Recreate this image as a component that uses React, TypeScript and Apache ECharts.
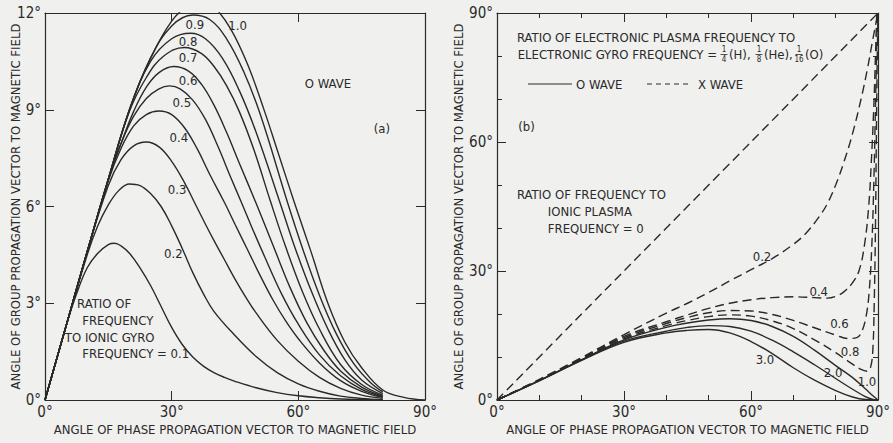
import React, { useEffect, useRef } from "react";
import * as echarts from "echarts";

const FONT = '"DejaVu Sans Condensed", "Liberation Sans Narrow", "Roboto Condensed", "DejaVu Sans", sans-serif';
const INK = "#2a2a2a";
const BG = "#f0f0ee";

// ---------- axis scales ----------
const phaseAxis = { min: 0, max: 90, interval: 30 };
const leftGroupAxis = { min: 0, max: 12, interval: 3 };
const rightGroupAxis = { min: 0, max: 90, interval: 30 };

const xTitle = "ANGLE OF PHASE PROPAGATION VECTOR TO MAGNETIC FIELD";
const yTitle = "ANGLE OF GROUP PROPAGATION VECTOR TO MAGNETIC FIELD";

// ---------- panel (a): O wave, ratio of frequency to ionic gyro frequency ----------
const leftRatios = ["0.1", "0.2", "0.3", "0.4", "0.5", "0.6", "0.7", "0.8", "0.9", "1.0"];
const a01 = [[0,0],[2.5,1.15],[5,2.3],[7.5,3.3],[10,4.1],[12.5,4.55],[15,4.82],[16.5,4.86],[18,4.78],[20,4.55],[22.5,4.1],[25,3.55],[27.5,2.9],[30,2.25],[32.5,1.72],[35,1.33],[37.5,1.05],[40,0.85],[42.5,0.7],[45,0.58],[50,0.38],[55,0.23],[60,0.13],[65,0.07],[70,0.03],[75,0.01],[80,0]];
const a02 = [[0,0],[5,2.3],[10,4.5],[12.5,5.4],[15,6.05],[17.5,6.5],[20,6.7],[22.5,6.65],[25,6.4],[27.5,6.0],[30,5.4],[32.5,4.7],[35,3.95],[37.5,3.3],[40,2.75],[45,2.0],[50,1.35],[55,0.85],[60,0.5],[65,0.27],[70,0.12],[75,0.05],[80,0.01]];
const a03 = [[0,0],[5,2.3],[10,4.6],[15,6.65],[18,7.45],[21,7.88],[24,8.0],[27,7.85],[30,7.4],[33,6.75],[35.5,6.1],[38,5.45],[40,4.95],[42.5,4.35],[45,3.75],[47.5,3.2],[50,2.7],[55,1.85],[60,1.2],[65,0.7],[70,0.36],[75,0.15],[80,0.05]];
const a04 = [[0,0],[5,2.3],[10,4.6],[15,6.8],[18,7.8],[21,8.5],[24,8.85],[27,8.96],[30,8.85],[33,8.45],[36,7.8],[39,7.0],[42.6,6.1],[45,5.45],[48,4.65],[51,3.85],[54,3.1],[57,2.45],[60,1.9],[65,1.15],[70,0.6],[75,0.27],[80,0.08]];
const a05 = [[0,0],[5,2.3],[10,4.6],[15,6.85],[18,7.95],[21,8.8],[24,9.35],[27,9.65],[29.5,9.74],[32,9.65],[35,9.3],[38,8.7],[41,7.85],[44,6.9],[46.6,6.1],[49,5.35],[52,4.45],[56,3.3],[60,2.35],[65,1.4],[70,0.75],[75,0.33],[80,0.1]];
const a06 = [[0,0],[5,2.3],[10,4.6],[15,6.85],[18,7.95],[21,8.95],[24,9.7],[27,10.15],[30.5,10.34],[34,10.2],[37,9.8],[40,9.15],[43,8.3],[46,7.35],[50,6.1],[54,4.8],[58,3.5],[62,2.4],[66,1.55],[70,0.9],[75,0.4],[80,0.12]];
const a07 = [[0,0],[5,2.3],[10,4.6],[15,6.85],[20,8.95],[24,10.0],[28,10.65],[33,10.93],[37,10.75],[40,10.35],[43,9.75],[46,8.95],[49.5,7.75],[53.3,6.2],[57,4.75],[61,3.35],[65,2.2],[70,1.1],[75,0.48],[80,0.15]];
const a08 = [[0,0],[5,2.3],[10,4.6],[15,6.85],[20,9.0],[25,10.5],[30,11.2],[34.5,11.37],[38,11.2],[42,10.6],[46,9.6],[50,8.3],[55.7,6.1],[59,4.8],[63,3.4],[67,2.2],[71,1.25],[75,0.62],[80,0.2]];
const a09 = [[0,0],[5,2.3],[10,4.6],[15,6.85],[20,9.0],[25,10.6],[30,11.6],[35,11.94],[39,11.8],[43,11.2],[47,10.2],[51,8.85],[57.5,6.1],[61,4.7],[65,3.25],[69,2.05],[73,1.15],[77,0.55],[80,0.25]];
const a10 = [[0,0],[5,2.3],[10,4.6],[15,6.85],[20,9.0],[25,10.6],[30,11.75],[34,12.25],[37,12.4],[40,12.2],[44,11.5],[48,10.4],[52,8.95],[55,7.75],[59,6.15],[63,4.6],[67,3.0],[71,1.8],[75,1.0],[80,0.31],[85,0.08],[90,0]];
const leftCurves = [a01, a02, a03, a04, a05, a06, a07, a08, a09, a10];

// ---------- panel (b): O (solid) and X (dashed) waves ----------
const xDiag = [[0,0],[90,90]];
const x02 = [[0,0],[10,4.8],[20,9.9],[30,15.2],[40,20.2],[45,22.5],[50,25.0],[55,27.7],[60,30.3],[65,32.9],[70,36.2],[73,38.8],[76,42.5],[78,45.6],[80,50.0],[82,55.5],[84,62],[86,70],[87.5,77],[88.8,84],[90,90]];
const x04 = [[0,0],[10,4.7],[20,9.7],[30,14.8],[40,18.2],[45,19.8],[50,21.3],[55,22.5],[60,23.3],[65,23.8],[70,24.0],[75,23.8],[78,23.7],[80,24.1],[82,25.2],[84,27.3],[85.5,30],[86.8,36],[87.8,45],[88.4,55],[89,68],[89.4,80],[89.7,90]];
const x06 = [[0,0],[10,4.65],[20,9.6],[30,14.5],[40,17.8],[45,19.2],[50,20.3],[55,20.8],[60,20.7],[65,19.9],[70,18.5],[75,16.8],[80,15.1],[83,14.3],[85,14.5],[86.2,16],[87.2,19.5],[87.9,25],[88.5,35],[89,50],[89.4,68],[89.7,82],[89.9,90]];
const x08 = [[0,0],[10,4.6],[20,9.5],[30,14.2],[40,17.3],[45,18.5],[50,19.4],[55,19.8],[60,19.5],[65,18.4],[70,16.6],[75,14.0],[80,11.0],[83,9.0],[86,7.1],[87.5,6.7],[88.3,7.8],[88.8,12],[89.1,22],[89.4,40],[89.6,60],[89.8,78],[90,90]];
const o10 = [[0,0],[10,4.55],[20,9.4],[30,14.0],[40,16.9],[45,17.9],[50,18.6],[55,18.9],[60,18.5],[65,17.1],[70,14.8],[75,11.6],[80,8.0],[84,5.2],[87,2.6],[89,0.8],[90,0]];
const o20 = [[0,0],[10,4.5],[20,9.3],[30,13.7],[40,16.0],[45,16.9],[50,17.3],[55,17.1],[60,16.0],[65,13.9],[70,11.2],[75,8.2],[80,5.0],[84,2.5],[87,0.8],[89,0.1],[90,0]];
const o30 = [[0,0],[10,4.45],[20,9.2],[30,13.4],[40,15.6],[45,16.2],[50,16.4],[55,15.6],[60,13.6],[65,10.8],[70,7.5],[75,4.6],[80,2.2],[84,0.7],[87,0.1],[90,0]];
const rightDashed = [xDiag, x02, x04, x06, x08];
const rightDashedNames = ["X", "X 0.2", "X 0.4", "X 0.6", "X 0.8"];
const rightSolid = [o10, o20, o30];
const rightSolidNames = ["O 1.0", "O 2.0", "O 3.0"];

// ---------- annotation texts (data coordinates) ----------
const leftCurveLabels = [
  { text: "0.2", at: [30.4, 4.53] },
  { text: "0.3", at: [31.3, 6.54] },
  { text: "0.4", at: [31.7, 8.14] },
  { text: "0.5", at: [32.4, 9.22] },
  { text: "0.6", at: [33.9, 9.9] },
  { text: "0.7", at: [33.9, 10.62] },
  { text: "0.8", at: [33.9, 11.13] },
  { text: "0.9", at: [35.5, 11.63] },
  { text: "1.0", at: [45.6, 11.6] },
  { text: "O WAVE", at: [67, 9.8] },
  { text: "(a)", at: [79.8, 8.43] },
];
const leftBlock = [
  { text: "RATIO OF", at: [7.6, 3.0] },
  { text: "FREQUENCY", at: [8.8, 2.48] },
  { text: "TO IONIC GYRO", at: [4.7, 1.95] },
  { text: "FREQUENCY = 0.1", at: [8.8, 1.43] },
];
const rightCurveLabels = [
  { text: "0.2", at: [62.6, 33.3] },
  { text: "0.4", at: [76, 25.3] },
  { text: "0.6", at: [80.9, 17.7] },
  { text: "0.8", at: [83.4, 11.2] },
  { text: "1.0", at: [87.4, 4.2] },
  { text: "2.0", at: [79.4, 6.5] },
  { text: "3.0", at: [63.3, 9.5] },
];
const rightBlock = [
  { text: "(b)", at: [5, 63.5] },
  { text: "RATIO OF FREQUENCY TO", at: [4.7, 47.9] },
  { text: "IONIC PLASMA", at: [12, 43.9] },
  { text: "FREQUENCY = 0", at: [12, 39.8] },
];

function valueAxis(grid: number, scale: any, pos: string, opts: any = {}) {
  return {
    type: "value",
    gridIndex: grid,
    position: pos,
    min: scale.min,
    max: scale.max,
    interval: scale.interval,
    axisLine: { show: true, onZero: false, lineStyle: { color: INK, width: 1.2 } },
    axisTick: { show: true, inside: true, length: 9, lineStyle: { color: INK, width: 1 } },
    splitLine: { show: false },
    nameMoveOverlap: false,
    axisLabel: {
      show: pos === "bottom" || pos === "left",
      formatter: "{value}°",
      color: INK,
      fontFamily: FONT,
      fontSize: 15,
      margin: 4,
    },
    ...opts,
  };
}

const textStyle = { color: INK, fontFamily: FONT, fontSize: 13 };

export default function App() {
  const ref = useRef<HTMLDivElement>(null);
  useEffect(() => {
    if (!ref.current) return;
    const chart = echarts.init(ref.current, null, { renderer: "svg" });
    const lineBase = { type: "line", showSymbol: false, symbol: "none", smooth: 0.4, silent: true };
    const series: any[] = [];
    leftCurves.forEach((d, i) =>
      series.push({ ...lineBase, name: "O " + leftRatios[i], xAxisIndex: 0, yAxisIndex: 0, data: d, lineStyle: { color: INK, width: 1.4 } })
    );
    rightDashed.forEach((d, i) =>
      series.push({ ...lineBase, name: rightDashedNames[i], xAxisIndex: 2, yAxisIndex: 2, data: d, lineStyle: { color: INK, width: 1.4, type: [9, 5] } })
    );
    rightSolid.forEach((d, i) =>
      series.push({ ...lineBase, name: rightSolidNames[i], xAxisIndex: 2, yAxisIndex: 2, data: d, lineStyle: { color: INK, width: 1.4 } })
    );

    const minorTick = { show: true, splitNumber: 3, length: 5, lineStyle: { color: INK, width: 1 } };

    chart.setOption({
      animation: false,
      backgroundColor: BG,
      grid: [
        { left: 45, top: 13, width: 380, height: 387, show: false },
        { left: 497, top: 13, width: 381, height: 387, show: false },
      ],
      xAxis: [
        valueAxis(0, phaseAxis, "bottom", { name: xTitle, nameLocation: "middle", nameGap: 23, nameTextStyle: textStyle }),
        valueAxis(0, phaseAxis, "top"),
        valueAxis(1, phaseAxis, "bottom", { name: xTitle, nameLocation: "middle", nameGap: 23, nameTextStyle: textStyle, minorTick }),
        valueAxis(1, phaseAxis, "top", { minorTick }),
      ],
      yAxis: [
        valueAxis(0, leftGroupAxis, "left", { name: yTitle, nameLocation: "middle", nameGap: 23, nameTextStyle: textStyle }),
        valueAxis(0, leftGroupAxis, "right"),
        valueAxis(1, rightGroupAxis, "left", { name: yTitle, nameLocation: "middle", nameGap: 32, nameTextStyle: textStyle, minorTick }),
        valueAxis(1, rightGroupAxis, "right", { minorTick }),
      ],
      series,
    });

    const sm = (t: string, x: number, y: number, size = 13, align = "left") => ({
      type: "text",
      x,
      y,
      silent: true,
      z: 10,
      style: { text: t, fill: INK, font: `${size}px ${FONT}`, textAlign: align, align, textVerticalAlign: "middle", verticalAlign: "middle" },
    });
    const frac = (num: string, den: string, cx: number) => [
      sm(num, cx, 49.5, 8, "center"),
      { type: "line", silent: true, shape: { x1: cx - 3.5, y1: 54.5, x2: cx + 3.5, y2: 54.5 }, style: { stroke: INK, lineWidth: 0.8 } },
      sm(den, cx, 59.5, 8, "center"),
    ];
    const place = (items: any[], grid: number, align: string) =>
      items.map((it) => {
        const p = chart.convertToPixel({ xAxisIndex: grid * 2, yAxisIndex: grid * 2 }, it.at) as number[];
        return sm(it.text, p[0], p[1], 13, align);
      });

    chart.setOption({
      graphic: [
        ...place(leftCurveLabels, 0, "center"),
        ...place(leftBlock, 0, "left"),
        ...place(rightCurveLabels, 1, "center"),
        ...place(rightBlock, 1, "left"),
        sm("RATIO OF ELECTRONIC PLASMA FREQUENCY TO", 517, 37),
        sm("ELECTRONIC GYRO FREQUENCY =", 717, 54, 13, "right"),
        ...frac("1", "4", 724),
        sm("(H),", 729, 54),
        ...frac("1", "8", 759),
        sm("(He),", 764, 54),
        ...frac("1", "16", 799),
        sm("(O)", 805, 54),
        { type: "line", silent: true, shape: { x1: 528, y1: 84, x2: 572, y2: 84 }, style: { stroke: INK, lineWidth: 1.2 } },
        sm("O WAVE", 576, 84),
        { type: "line", silent: true, shape: { x1: 647, y1: 84, x2: 690, y2: 84 }, style: { stroke: INK, lineWidth: 1.2, lineDash: [5, 4] } },
        sm("X WAVE", 698, 84),
      ],
    });
    return () => chart.dispose();
  }, []);
  return <div ref={ref} style={{ position: "fixed", left: 0, top: 0, width: 893, height: 443 }} />;
}
